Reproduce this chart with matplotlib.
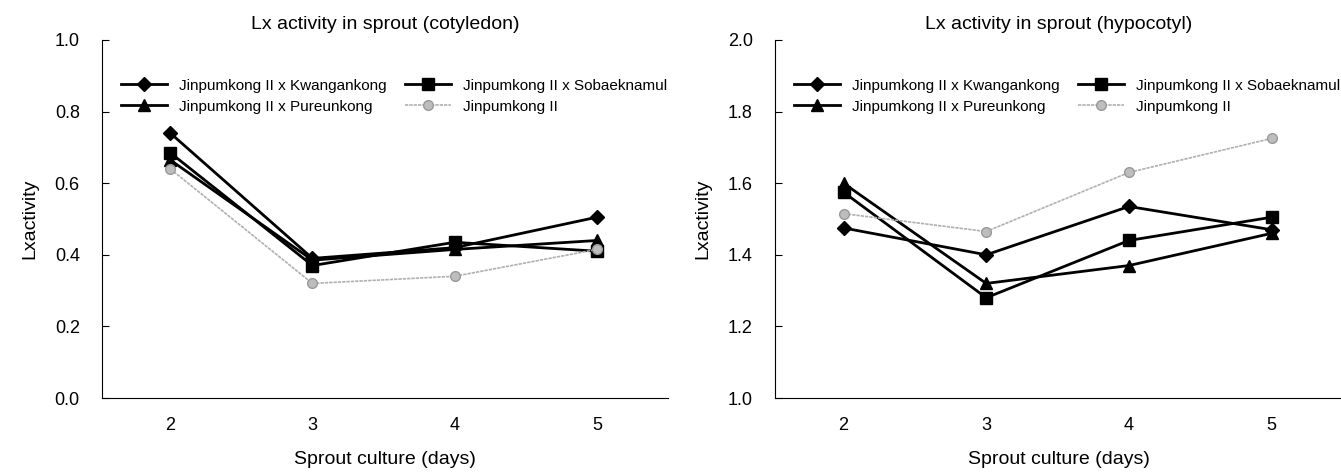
from matplotlib import pyplot as plt
import numpy as np

plt.rcParams['font.family'] = ['Liberation Sans', 'DejaVu Sans']

days = [2, 3, 4, 5]
names = ['Jinpumkong II x Kwangankong', 'Jinpumkong II x Sobaeknamul',
         'Jinpumkong II x Pureunkong', 'Jinpumkong II']

# cotyledon
cot_kwang = [0.74, 0.39, 0.42, 0.505]
cot_sobaek = [0.685, 0.37, 0.435, 0.41]
cot_pureun = [0.665, 0.385, 0.415, 0.44]
cot_jinpum = [0.64, 0.32, 0.34, 0.415]

# hypocotyl
hyp_kwang = [1.475, 1.40, 1.535, 1.47]
hyp_sobaek = [1.575, 1.28, 1.44, 1.505]
hyp_pureun = [1.60, 1.32, 1.37, 1.46]
hyp_jinpum = [1.515, 1.465, 1.63, 1.725]

W, H = 1341, 473
fig = plt.figure(figsize=(W / 100, H / 100), dpi=100)
ax1 = fig.add_axes([102 / W, 1 - 398 / H, 566 / W, 358 / H])
ax2 = fig.add_axes([775 / W, 1 - 398 / H, 568 / W, 358 / H])


def draw(ax, series, ylim, yticks, title):
    styles = [dict(marker='D', color='black', lw=2, ms=7),
              dict(marker='s', color='black', lw=2, ms=8),
              dict(marker='^', color='black', lw=2, ms=8),
              dict(marker='o', color='#b0b0b0', lw=1.2, ms=7, ls='--', dashes=(2, 0.6),
                   markerfacecolor='#bdbdbd', markeredgecolor='#999999')]
    lines = []
    for vals, name, st in zip(series, names, styles):
        lines += ax.plot(days, vals, label=name, **st)
    ax.set_xlim(1.52, 5.5)
    ax.set_ylim(*ylim)
    ax.set_xticks(days)
    ax.set_yticks(yticks)
    ax.set_yticklabels(['%.1f' % t for t in yticks])
    ax.spines['top'].set_visible(False)
    ax.spines['right'].set_visible(False)
    ax.tick_params(axis='y', direction='in', length=5, labelsize=13, pad=16)
    ax.tick_params(axis='x', length=0, labelsize=13, pad=14)
    ax.set_xlabel('Sprout culture (days)', fontsize=14, labelpad=12)
    ax.set_ylabel('Lxactivity', fontsize=14, labelpad=12)
    ax.set_title(title, fontsize=14, pad=8)
    # column-major order so rows read Kwang/Sobaek, Pureun/Jinpum
    order = [0, 2, 1, 3]
    ax.legend([lines[i] for i in order], [names[i] for i in order],
              loc='upper left', bbox_to_anchor=(0.01, 0.93), ncol=2, frameon=False,
              fontsize=11, handlelength=3, columnspacing=1.2, labelspacing=0.45,
              handletextpad=0.8)


draw(ax1, [cot_kwang, cot_sobaek, cot_pureun, cot_jinpum], (0.0, 1.0),
     [0.0, 0.2, 0.4, 0.6, 0.8, 1.0], 'Lx activity in sprout (cotyledon)')
draw(ax2, [hyp_kwang, hyp_sobaek, hyp_pureun, hyp_jinpum], (1.0, 2.0),
     [1.0, 1.2, 1.4, 1.6, 1.8, 2.0], 'Lx activity in sprout (hypocotyl)')

fig.savefig('out.png', dpi=100)
